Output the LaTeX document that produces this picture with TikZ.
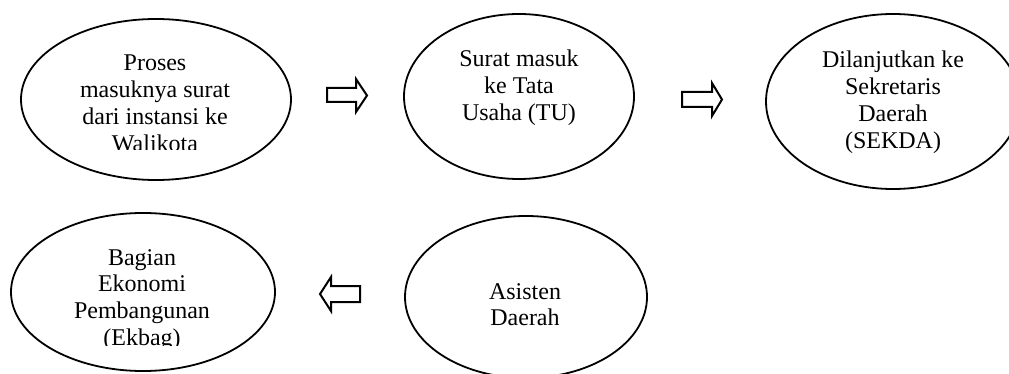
\documentclass[tikz,border=0pt]{standalone}
\usepackage{fontspec}
\setmainfont{Liberation Serif}
\usetikzlibrary{shapes.geometric}
\begin{document}
\begin{tikzpicture}[x=1pt,y=-1pt,
  bubble/.style={draw=black, line width=1.8pt, ellipse, inner sep=0pt},
  lbl/.style={inner sep=0pt, anchor=base, font=\fontsize{24}{26.7}\selectfont},
  blockarrow/.style={draw=black, line width=2pt, line join=miter, fill=white}]
\useasboundingbox (0,0) rectangle (1009,374);
\clip (0,0) rectangle (1009,374);
% ellipses
\node[bubble, minimum width=270pt, minimum height=161pt] (e1) at (156,99.5) {};
\node[bubble, minimum width=230pt, minimum height=165pt] (e2) at (519,96.5) {};
\node[bubble, minimum width=254pt, minimum height=175pt] (e3) at (893,101.5) {};
\node[bubble, minimum width=264pt, minimum height=158pt] (e4) at (143,292) {};
\node[bubble, minimum width=242pt, minimum height=162pt] (e5) at (526,297) {};
% texts
\begin{scope}
\clip (0,0) rectangle (1009,149.5);
\node[lbl] (t1) at (155,71) {\begin{tabular}[t]{@{}c@{}}Proses\\masuknya surat\\dari instansi ke\\Walikota\end{tabular}};
\end{scope}
\node[lbl] (t2) at (519,67) {\begin{tabular}[t]{@{}c@{}}Surat masuk\\ke Tata\\Usaha (TU)\end{tabular}};
\node[lbl] (t3) at (893,68) {\begin{tabular}[t]{@{}c@{}}Dilanjutkan ke\\Sekretaris\\Daerah\\(SEKDA)\end{tabular}};
\begin{scope}
\clip (0,200) rectangle (320,345);
\node[lbl] (t4) at (142,265) {\begin{tabular}[t]{@{}c@{}}Bagian\\Ekonomi\\Pembangunan\\(Ekbag)\end{tabular}};
\end{scope}
\node[lbl] (t5) at (525,299) {\begin{tabular}[t]{@{}c@{}}Asisten\\Daerah\end{tabular}};
% block arrows
\draw[blockarrow] (327,88) -- (356,88) -- (356,79) -- (367,95.5) -- (356,112) -- (356,102) -- (327,102) -- cycle;
\draw[blockarrow] (682,92) -- (712,92) -- (712,83) -- (722,99.5) -- (712,116) -- (712,107) -- (682,107) -- cycle;
\draw[blockarrow] (320,294) -- (331,277) -- (331,286) -- (360,286) -- (360,302) -- (331,302) -- (331,311) -- cycle;
\end{tikzpicture}
\end{document}
